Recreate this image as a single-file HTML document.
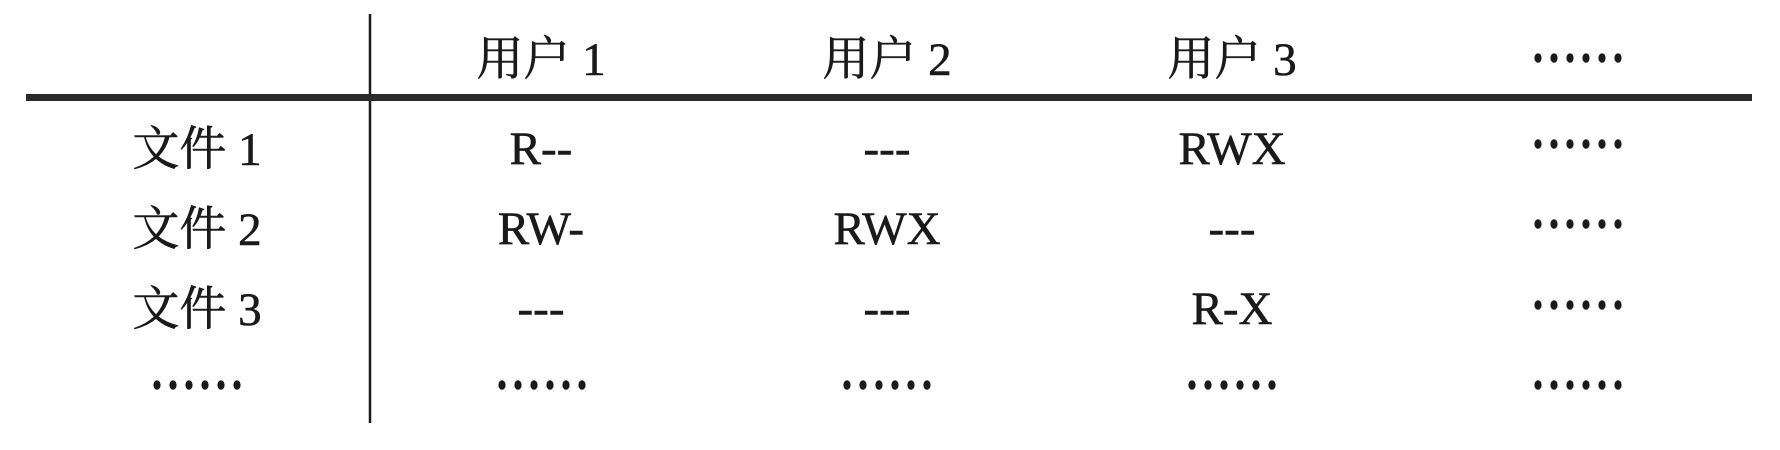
<!DOCTYPE html>
<html><head><meta charset="utf-8"><style>
html,body{margin:0;padding:0;background:#fff;}
svg{display:block;}
text{font-family:"Liberation Serif","Noto Serif CJK SC","Noto Sans CJK SC",serif;fill:#1a1a1a;text-anchor:middle;stroke:#1a1a1a;stroke-width:0.6;}
.c{font-size:47px;}
.l{font-size:47px;}
</style></head><body>
<svg width="1780" height="450" viewBox="0 0 1780 450" xmlns="http://www.w3.org/2000/svg">
<defs>
<g id="d">
<ellipse cx="-40" cy="0" rx="3.6" ry="4.8" fill="#1a1a1a"/>
<ellipse cx="-24" cy="0" rx="3.6" ry="4.8" fill="#1a1a1a"/>
<ellipse cx="-8" cy="0" rx="3.6" ry="4.8" fill="#1a1a1a"/>
<ellipse cx="8" cy="0" rx="3.6" ry="4.8" fill="#1a1a1a"/>
<ellipse cx="24" cy="0" rx="3.6" ry="4.8" fill="#1a1a1a"/>
<ellipse cx="40" cy="0" rx="3.6" ry="4.8" fill="#1a1a1a"/>
</g>
</defs>
<line x1="370" y1="14" x2="370" y2="423" stroke="#1a1a1a" stroke-width="2.5"/>
<rect x="26" y="94" width="1726" height="7" fill="#2a2a2a"/>

<text class="c" x="541" y="75">用户 1</text>
<text class="c" x="887" y="75">用户 2</text>
<text class="c" x="1232" y="75">用户 3</text>
<use href="#d" x="1578" y="58"/>

<text class="c" x="197" y="165">文件 1</text>
<text class="c" x="197" y="245">文件 2</text>
<text class="c" x="197" y="325">文件 3</text>
<use href="#d" x="197" y="385"/>

<text class="l" x="541" y="164">R--</text>
<text class="l" x="887" y="164">---</text>
<text class="l" x="1232" y="164">RWX</text>
<use href="#d" x="1578" y="144"/>

<text class="l" x="541" y="244">RW-</text>
<text class="l" x="887" y="244">RWX</text>
<text class="l" x="1232" y="244">---</text>
<use href="#d" x="1578" y="224"/>

<text class="l" x="541" y="324">---</text>
<text class="l" x="887" y="324">---</text>
<text class="l" x="1232" y="324">R-X</text>
<use href="#d" x="1578" y="305"/>

<use href="#d" x="542" y="385"/>
<use href="#d" x="887" y="385"/>
<use href="#d" x="1232" y="385"/>
<use href="#d" x="1578" y="385"/>
</svg>
</body></html>
